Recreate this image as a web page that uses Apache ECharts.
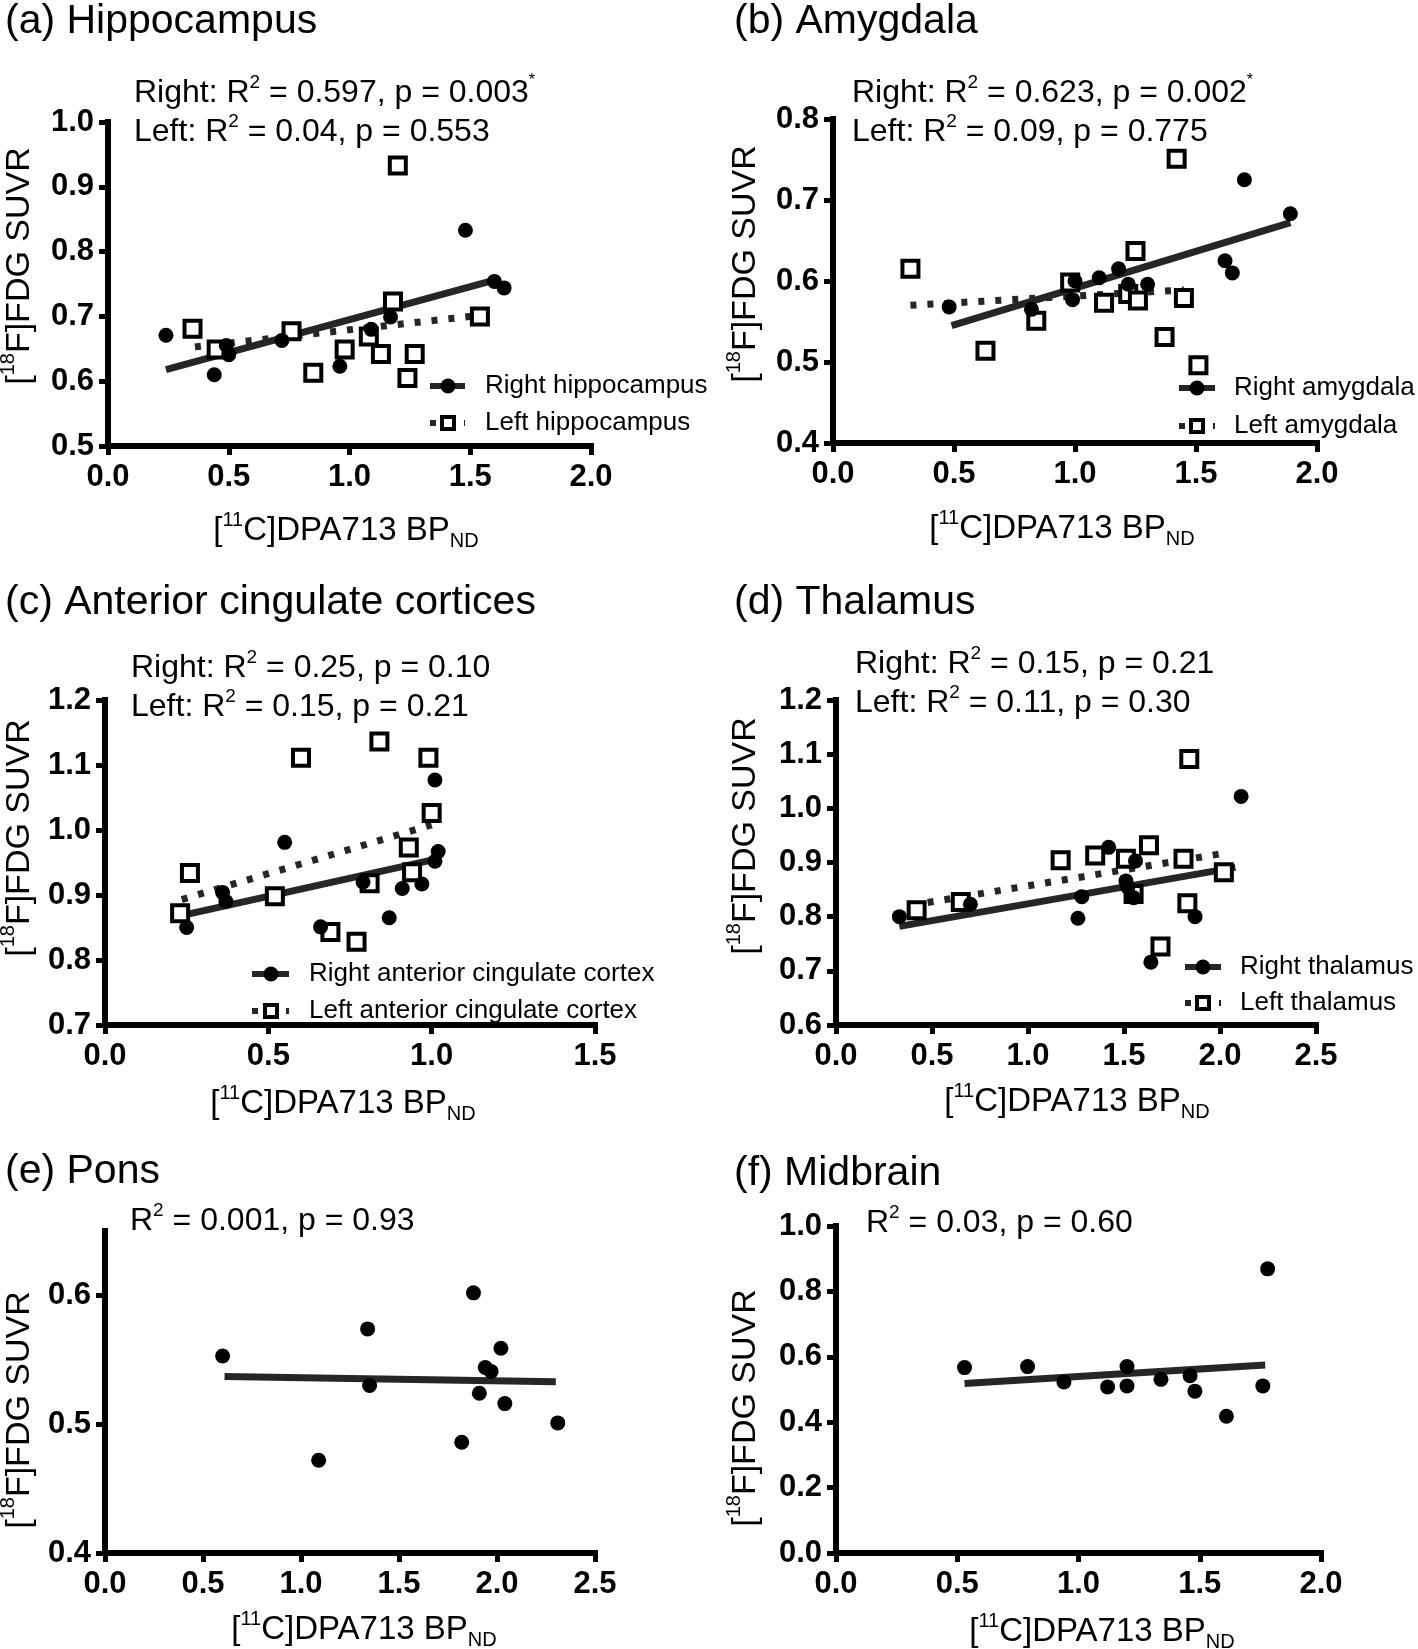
<!DOCTYPE html>
<html><head><meta charset="utf-8">
<script src="https://cdn.jsdelivr.net/npm/echarts@6/dist/echarts.min.js"></script>
<style>html,body{margin:0;padding:0;background:#fff}#c{width:1418px;height:1649px}</style>
</head><body><div id="c"></div>
<script>
// ---------- DATA ----------
// (a) Hippocampus
const hipRightX = [0.24,0.44,0.49,0.50,0.72,0.96,1.09,1.17,1.48,1.60,1.64];
const hipRightY = [0.671,0.610,0.655,0.641,0.663,0.623,0.680,0.699,0.833,0.754,0.744];
const hipLeftX  = [0.35,0.45,0.76,0.85,0.98,1.08,1.13,1.18,1.20,1.24,1.27,1.54];
const hipLeftY  = [0.681,0.649,0.677,0.613,0.649,0.669,0.642,0.723,0.933,0.605,0.642,0.700];
const hipRightFitX = [0.24,1.60], hipRightFitY = [0.618,0.756];
const hipLeftFitX  = [0.36,1.55], hipLeftFitY  = [0.653,0.702];
// (b) Amygdala
const amyRightX = [0.48,0.82,0.99,1.00,1.10,1.18,1.22,1.30,1.62,1.65,1.70,1.89];
const amyRightY = [0.568,0.565,0.577,0.600,0.604,0.615,0.596,0.596,0.625,0.610,0.725,0.683];
const amyLeftX  = [0.32,0.63,0.84,0.98,1.12,1.22,1.25,1.26,1.37,1.42,1.45,1.51];
const amyLeftY  = [0.615,0.514,0.551,0.598,0.573,0.584,0.637,0.576,0.531,0.751,0.579,0.496];
const amyRightFitX = [0.49,1.89], amyRightFitY = [0.545,0.672];
const amyLeftFitX  = [0.32,1.45], amyLeftFitY  = [0.570,0.589];
// (c) Anterior cingulate cortices
const accRightX = [0.25,0.36,0.37,0.55,0.66,0.79,0.87,0.91,0.97,1.01,1.02,1.01];
const accRightY = [0.850,0.904,0.890,0.981,0.851,0.920,0.865,0.910,0.917,1.077,0.967,0.952];
const accLeftX  = [0.23,0.26,0.52,0.60,0.69,0.77,0.81,0.84,0.93,0.94,0.99,1.00];
const accLeftY  = [0.872,0.934,0.898,1.111,0.843,0.828,0.918,1.136,0.973,0.935,1.111,1.026];
const accRightFitX = [0.23,1.02], accRightFitY = [0.868,0.956];
const accLeftFitX  = [0.235,1.00], accLeftFitY = [0.893,1.008];
// (d) Thalamus
const thaRightX = [0.33,0.70,1.26,1.28,1.42,1.51,1.52,1.56,1.55,1.64,1.87,2.11];
const thaRightY = [0.800,0.823,0.797,0.837,0.928,0.866,0.854,0.903,0.835,0.716,0.800,1.022];
const thaLeftX  = [0.42,0.65,1.17,1.35,1.51,1.55,1.63,1.69,1.81,1.83,1.84,2.02];
const thaLeftY  = [0.812,0.827,0.904,0.913,0.907,0.842,0.932,0.745,0.907,0.825,1.091,0.882];
const thaRightFitX = [0.33,2.08], thaRightFitY = [0.782,0.891];
const thaLeftFitX  = [0.39,2.02], thaLeftFitY  = [0.821,0.917];
// (e) Pons
const ponsX = [0.60,1.09,1.34,1.35,1.82,1.88,1.91,1.94,1.97,2.02,2.04,2.31];
const ponsY = [0.553,0.472,0.574,0.530,0.486,0.602,0.524,0.544,0.541,0.559,0.516,0.501];
const ponsFitX = [0.61,2.30], ponsFitY = [0.537,0.533];
const ponsYTicks = [0.4,0.5,0.6];
// (f) Midbrain
const midX = [0.53,0.79,0.94,1.12,1.20,1.20,1.34,1.46,1.48,1.61,1.76,1.78];
const midY = [0.567,0.570,0.523,0.508,0.570,0.511,0.531,0.542,0.495,0.418,0.511,0.869];
const midFitX = [0.53,1.77], midFitY = [0.518,0.575];

// Axis ranges per panel: [xmax, xint, ymin, ymax, yint]
const axisRanges = [
  [2.0,0.5,0.5,1.0,0.1],
  [2.0,0.5,0.4,0.8,0.1],
  [1.5,0.5,0.7,1.2,0.1],
  [2.5,0.5,0.6,1.2,0.1],
  [2.5,0.5,0.4,0.65,0.1],
  [2.0,0.5,0.0,1.0,0.2]
];
const titles = ['(a) Hippocampus','(b) Amygdala','(c) Anterior cingulate cortices','(d) Thalamus','(e) Pons','(f) Midbrain'];
const annotations = [
  ['Right: R{s|2} = 0.597, p = 0.003{t|*}','Left: R{s|2} = 0.04, p = 0.553'],
  ['Right: R{s|2} = 0.623, p = 0.002{t|*}','Left: R{s|2} = 0.09, p = 0.775'],
  ['Right: R{s|2} = 0.25, p = 0.10','Left: R{s|2} = 0.15, p = 0.21'],
  ['Right: R{s|2} = 0.15, p = 0.21','Left: R{s|2} = 0.11, p = 0.30'],
  ['R{s|2} = 0.001, p = 0.93'],
  ['R{s|2} = 0.03, p = 0.60']
];
const legendLabels = [
  ['Right hippocampus','Left hippocampus'],
  ['Right amygdala','Left amygdala'],
  ['Right anterior cingulate cortex','Left anterior cingulate cortex'],
  ['Right thalamus','Left thalamus']
];

// ---------- LAYOUT ----------
const grids = [
  {left:108, top:122, width:483, height:324},
  {left:833, top:119, width:484, height:324},
  {left:105, top:700, width:490, height:325},
  {left:836, top:700, width:480, height:325},
  {left:105, top:1231, width:490, height:322},
  {left:836, top:1226, width:485, height:327}
];
const FONT = '"Liberation Sans", Arial, sans-serif';
const zip = (xs, ys) => xs.map((x,i)=>[x, ys[i]]);

const xAxes = [], yAxes = [], series = [];
axisRanges.forEach((r,i)=>{
  const axStyle = {
    axisLine:{show:true, onZero:false, lineStyle:{color:'#000', width:6, cap:'square'}},
    axisTick:{show:true, length:9, lineStyle:{color:'#000', width:5}},
    splitLine:{show:false}
  };
  xAxes.push(Object.assign({gridIndex:i, type:'value', min:0, max:r[0], interval:r[1],
    axisLabel:{color:'#000', fontFamily:FONT, fontWeight:'bold', fontSize:31, margin:16,
      formatter:v=>v.toFixed(1)}}, axStyle));
  const y = Object.assign({gridIndex:i, type:'value', min:r[2], max:r[3], interval:r[4],
    axisLabel:{color:'#000', fontFamily:FONT, fontWeight:'bold', fontSize:31, margin:14,
      formatter:v=>v.toFixed(1)}}, axStyle);
  if (i === 4) {
    y.axisLabel.customValues = ponsYTicks;
    y.axisTick = {show:true, length:9, lineStyle:{color:'#000', width:5}, customValues: ponsYTicks};
  }
  yAxes.push(y);
});

function fitLine(i, xs, ys, dotted) {
  series.push({type:'line', xAxisIndex:i, yAxisIndex:i, data:zip(xs, ys), symbol:'none', silent:true,
    z:2, lineStyle:{color:'#262626', width:7, opacity:1, type: dotted ? [6,11] : 'solid', cap:'butt'}});
}
function dots(i, xs, ys) {
  series.push({type:'scatter', xAxisIndex:i, yAxisIndex:i, data:zip(xs, ys), symbol:'circle',
    symbolSize:15, z:4, itemStyle:{color:'#000', opacity:1}});
}
function squares(i, xs, ys) {
  series.push({type:'scatter', xAxisIndex:i, yAxisIndex:i, data:zip(xs, ys), symbol:'rect',
    symbolSize:16, z:3, itemStyle:{color:'#fff', borderColor:'#000', borderWidth:4, opacity:1}});
}
fitLine(0, hipRightFitX, hipRightFitY, false); fitLine(0, hipLeftFitX, hipLeftFitY, true);
squares(0, hipLeftX, hipLeftY); dots(0, hipRightX, hipRightY);
fitLine(1, amyRightFitX, amyRightFitY, false); fitLine(1, amyLeftFitX, amyLeftFitY, true);
squares(1, amyLeftX, amyLeftY); dots(1, amyRightX, amyRightY);
fitLine(2, accRightFitX, accRightFitY, false); fitLine(2, accLeftFitX, accLeftFitY, true);
squares(2, accLeftX, accLeftY); dots(2, accRightX, accRightY);
fitLine(3, thaRightFitX, thaRightFitY, false); fitLine(3, thaLeftFitX, thaLeftFitY, true);
squares(3, thaLeftX, thaLeftY); dots(3, thaRightX, thaRightY);
fitLine(4, ponsFitX, ponsFitY, false); dots(4, ponsX, ponsY);
fitLine(5, midFitX, midFitY, false); dots(5, midX, midY);

// ---------- TEXT / GRAPHICS ----------
const graphic = [];
const richBase = (fs) => ({
  s:{fontSize:Math.round(fs*0.6), fontFamily:FONT, fill:'#000', verticalAlign:'top', lineHeight:Math.round(fs*0.88)},
  t:{fontSize:Math.round(fs*0.5), fontFamily:FONT, fill:'#000', verticalAlign:'top', lineHeight:Math.round(fs*0.7)},
  b:{fontSize:Math.round(fs*0.62), fontFamily:FONT, fill:'#000', verticalAlign:'bottom', lineHeight:Math.round(fs*0.5)}
});
function txt(text, x, y, fs, opts) {
  opts = opts || {};
  graphic.push({type:'text', x, y, rotation: opts.rot || 0, z:10,
    style:{text, fontSize:fs, fontFamily:FONT, fill:'#000', align:opts.align||'left',
      verticalAlign:'middle', lineHeight:Math.round(fs*1.25), rich:richBase(fs)}});
}
const titlePos = [[5,22],[734,22],[5,603],[734,603],[5,1172],[734,1174]];
titles.forEach((t,i)=>txt(t, titlePos[i][0], titlePos[i][1], 41));
const annPos = [[134,93,132],[852,93,132],[131,668,707],[855,664,703],[130,1221],[866,1223]];
annotations.forEach((lines,i)=>lines.forEach((l,j)=>txt(l, annPos[i][0], annPos[i][1+j], 32)));
const xNamePos = [[346,531],[1062,529],[343,1104],[1077,1102],[364,1630],[1102,1632]];
xNamePos.forEach(p=>txt('[{s|11}C]DPA713 BP{b|ND}', p[0], p[1], 33, {align:'center'}));
const yNamePos = [[20,266],[746,264],[20,838],[746,836],[20,1410],[746,1408]];
yNamePos.forEach(p=>txt('[{s|18}F]FDG SUVR', p[0], p[1], 34, {align:'center', rot:Math.PI/2}));

// legends: [lineStart, lineEnd, symbolX, textX, row1Y, row2Y]
const legendPos = [
  [430,465,448,485,386,423],
  [1179,1215,1197,1234,388,426],
  [252,289,271,309,974,1011],
  [1185,1221,1203,1240,967,1003]
];
legendPos.forEach((p,i)=>{
  graphic.push({type:'line', z:10, shape:{x1:p[0], y1:p[4], x2:p[1], y2:p[4]}, style:{stroke:'#262626', lineWidth:6}});
  graphic.push({type:'circle', z:11, shape:{cx:p[2], cy:p[4], r:7.5}, style:{fill:'#000'}});
  graphic.push({type:'line', z:10, shape:{x1:p[0], y1:p[5], x2:p[1], y2:p[5]}, style:{stroke:'#262626', lineWidth:6, lineDash:[6,11]}});
  graphic.push({type:'rect', z:11, shape:{x:p[2]-6, y:p[5]-6, width:12, height:12}, style:{fill:'#fff', stroke:'#000', lineWidth:4}});
  txt(legendLabels[i][0], p[3], p[4], 26);
  txt(legendLabels[i][1], p[3], p[5], 26);
});

const chart = echarts.init(document.getElementById('c'), null, {renderer:'canvas'});
chart.setOption({
  backgroundColor:'#fff',
  animation:false,
  grid: grids.map(g=>Object.assign({containLabel:false}, g)),
  xAxis: xAxes,
  yAxis: yAxes,
  series,
  graphic
});
</script>
</body></html>
